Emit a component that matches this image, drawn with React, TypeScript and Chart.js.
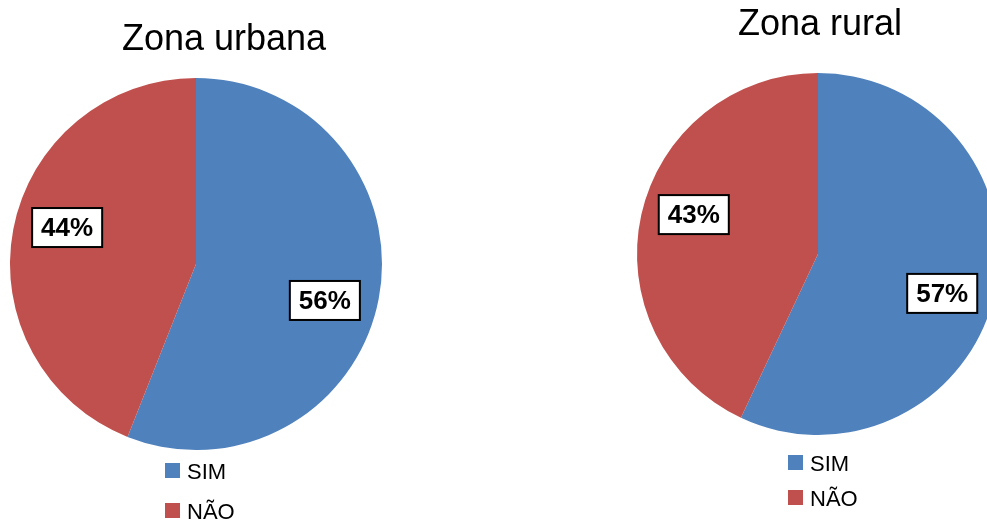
import React, { useEffect, useRef } from "react";
import { Chart, registerables } from "chart.js";

Chart.register(...registerables);

const categories = ["SIM", "NÃO"];
const urbanValues = [56, 44];
const ruralValues = [57, 43];
const chartTitles = ["Zona urbana", "Zona rural"];
const sliceColors = ["#4F81BD", "#C0504D"];

type Place = {
  left: number;
  width: number;
  height: number;
  padding: { left: number; top: number; right: number; bottom: number };
  titleX: number;
  titleY: number;
  legendX: number;
  legendY: number;
  legendGap: number;
};

const leftPlace: Place = {
  left: 0,
  width: 493,
  height: 520,
  padding: { left: 10, top: 78, right: 111, bottom: 70 },
  titleX: 224,
  titleY: 50,
  legendX: 165,
  legendY: 463,
  legendGap: 40,
};

const rightPlace: Place = {
  left: 493,
  width: 600,
  height: 520,
  padding: { left: 144, top: 73, right: 94, bottom: 85 },
  titleX: 327,
  titleY: 35,
  legendX: 295,
  legendY: 455,
  legendGap: 35,
};

const FONT = '"Liberation Sans", Arial, sans-serif';

function PieChart({ title, values, place }: { title: string; values: number[]; place: Place }) {
  const ref = useRef<HTMLCanvasElement>(null);

  useEffect(() => {
    if (!ref.current) return;
    const overlay = {
      id: "overlay",
      afterDraw(chart: any) {
        const ctx = chart.ctx as CanvasRenderingContext2D;
        ctx.save();
        // title
        ctx.font = `36px ${FONT}`;
        ctx.fillStyle = "#000";
        ctx.textAlign = "center";
        ctx.textBaseline = "alphabetic";
        ctx.fillText(title, place.titleX, place.titleY);

        // data labels
        const meta = chart.getDatasetMeta(0);
        const data = chart.data.datasets[0].data as number[];
        const total = data.reduce((a, b) => a + b, 0);
        const shift = (5 * Math.PI) / 180;
        meta.data.forEach((arc: any, i: number) => {
          const { x, y, startAngle, endAngle, outerRadius } = arc.getProps(
            ["x", "y", "startAngle", "endAngle", "outerRadius"],
            true
          );
          const mid = (startAngle + endAngle) / 2 + shift;
          const r = outerRadius * 0.72;
          const cx = x + Math.cos(mid) * r;
          const cy = y + Math.sin(mid) * r;
          const text = Math.round((data[i] / total) * 100) + "%";
          ctx.font = `bold 26px ${FONT}`;
          const w = ctx.measureText(text).width + 18;
          const h = 39;
          ctx.fillStyle = "#fff";
          ctx.fillRect(cx - w / 2, cy - h / 2, w, h);
          ctx.lineWidth = 2;
          ctx.strokeStyle = "#000";
          ctx.strokeRect(cx - w / 2, cy - h / 2, w, h);
          ctx.fillStyle = "#000";
          ctx.textAlign = "center";
          ctx.textBaseline = "middle";
          ctx.fillText(text, cx, cy + 1);
        });

        // legend
        const labels = chart.data.labels as string[];
        const colors = chart.data.datasets[0].backgroundColor as string[];
        ctx.font = `22px ${FONT}`;
        ctx.textAlign = "left";
        ctx.textBaseline = "alphabetic";
        labels.forEach((lab, i) => {
          const yy = place.legendY + i * place.legendGap;
          ctx.fillStyle = colors[i];
          ctx.fillRect(place.legendX, yy, 15, 15);
          ctx.fillStyle = "#000";
          ctx.fillText(lab, place.legendX + 22, yy + 16);
        });
        ctx.restore();
      },
    };

    const chart = new Chart(ref.current, {
      type: "pie",
      data: {
        labels: categories,
        datasets: [
          {
            data: values,
            backgroundColor: sliceColors,
            borderWidth: 0,
            hoverOffset: 0,
            offset: 0,
          },
        ],
      },
      options: {
        animation: false,
        responsive: false,
        events: [],
        layout: { padding: place.padding },
        plugins: {
          legend: { display: false },
          tooltip: { enabled: false },
          title: { display: false },
        },
      },
      plugins: [overlay],
    });
    return () => chart.destroy();
  }, [title, values, place]);

  return (
    <canvas
      ref={ref}
      width={place.width}
      height={place.height}
      style={{
        position: "absolute",
        left: place.left,
        top: 0,
        width: place.width,
        height: place.height,
        display: "block",
      }}
    />
  );
}

export default function App() {
  return (
    <div
      style={{
        position: "absolute",
        left: 0,
        top: 0,
        width: 987,
        height: 520,
        overflow: "hidden",
        background: "#fff",
      }}
    >
      <PieChart title={chartTitles[0]} values={urbanValues} place={leftPlace} />
      <PieChart title={chartTitles[1]} values={ruralValues} place={rightPlace} />
    </div>
  );
}
